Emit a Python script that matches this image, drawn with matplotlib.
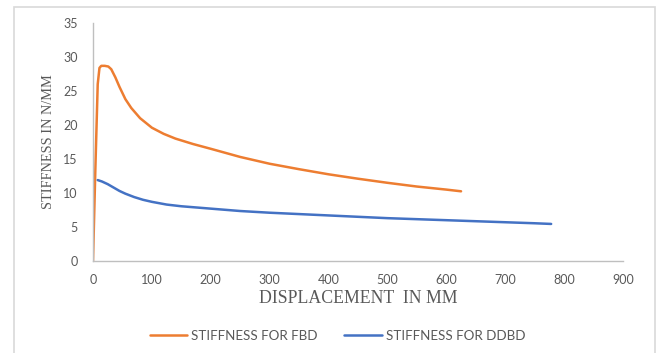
import matplotlib
matplotlib.use("Agg")
import matplotlib.pyplot as plt
from matplotlib.patches import Rectangle

# Stiffness curves vs displacement
fbd_x = [0, 4, 8, 11, 14, 20, 26, 31, 38, 45, 55, 65, 80, 100, 120, 140, 170, 200,
         250, 300, 350, 400, 450, 500, 550, 600, 625]
fbd_y = [0, 13.5, 26.0, 28.4, 28.7, 28.7, 28.6, 28.2, 27.0, 25.6, 23.8, 22.5, 21.0,
         19.6, 18.7, 18.0, 17.2, 16.5, 15.3, 14.3, 13.5, 12.75, 12.1, 11.5, 10.95,
         10.5, 10.25]

ddbd_x = [8, 15, 25, 35, 45, 55, 70, 85, 100, 125, 150, 200, 250, 300, 350, 400,
          450, 500, 550, 600, 650, 700, 750, 778]
ddbd_y = [11.9, 11.7, 11.3, 10.8, 10.3, 9.9, 9.4, 9.0, 8.7, 8.3, 8.05, 7.7, 7.35,
          7.1, 6.9, 6.7, 6.5, 6.3, 6.15, 6.0, 5.85, 5.7, 5.55, 5.45]

x_ticks = [0, 100, 200, 300, 400, 500, 600, 700, 800, 900]
y_ticks = [0, 5, 10, 15, 20, 25, 30, 35]

ORANGE = "#ED7D31"
BLUE = "#4472C4"
GREY = "#595959"

fig = plt.figure(figsize=(6.59, 3.53), dpi=100)
fig.patch.set_facecolor("white")

# chart area border
fig.patches.append(Rectangle((14 / 659, -0.05), (655 - 14) / 659, 1.05 - 7 / 353,
                             transform=fig.transFigure, facecolor="white",
                             edgecolor="#d9d9d9", linewidth=1.2, zorder=-5))

ax = fig.add_axes([93 / 659, 1 - 261 / 353, (623 - 93) / 659, (261 - 23) / 353])
ax.set_zorder(2)
ax.set_facecolor("none")

l1, = ax.plot(fbd_x, fbd_y, color=ORANGE, linewidth=1.8, solid_capstyle="round",
              solid_joinstyle="round", label="STIFFNESS FOR FBD")
l2, = ax.plot(ddbd_x, ddbd_y, color=BLUE, linewidth=1.8, solid_capstyle="round",
              solid_joinstyle="round", label="STIFFNESS FOR DDBD")

ax.set_xlim(0, 900)
ax.set_ylim(0, 35)
ax.set_xticks(x_ticks)
ax.set_yticks(y_ticks)
ax.tick_params(length=0, labelsize=9, labelcolor=GREY)
ax.tick_params(axis="y", pad=11)
ax.tick_params(axis="x", pad=9)
for lab in ax.get_xticklabels() + ax.get_yticklabels():
    lab.set_fontfamily("Lato")

for side in ("top", "right"):
    ax.spines[side].set_visible(False)
for side in ("left", "bottom"):
    ax.spines[side].set_color("#bfbfbf")
    ax.spines[side].set_linewidth(1.0)

ax.set_xlabel("DISPLACEMENT  IN MM", fontfamily="Liberation Serif", fontsize=12.8,
              color=GREY, labelpad=3)
ax.set_ylabel("STIFFNESS IN N/MM", fontfamily="Liberation Serif", fontsize=10.3,
              color=GREY, labelpad=6)

leg = fig.legend(handles=[l1, l2], loc="center", bbox_to_anchor=(0.512, 1 - 336 / 353),
                 ncol=2, frameon=False, handlelength=2.8, handletextpad=0.3,
                 columnspacing=2.0, prop={"family": "Lato", "size": 9.6})
for t in leg.get_texts():
    t.set_color(GREY)

fig.savefig("out.png", dpi=100, facecolor="white")
